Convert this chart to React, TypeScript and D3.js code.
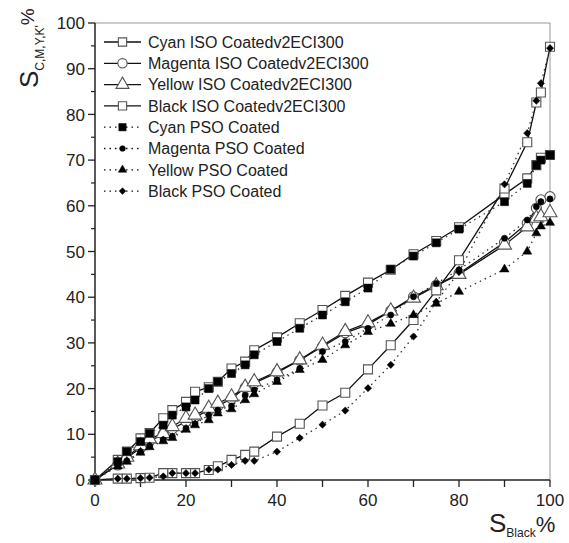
import React from "react";
import * as d3 from "d3";

const xs = [0, 5, 7, 10, 12, 15, 17, 20, 22, 25, 27, 30, 33, 35, 40, 45, 50, 55, 60, 65, 70, 75, 80, 90, 95, 97, 98, 100];

const cyanISO = [0, 4.4, 6.2, 9.1, 10.3, 13.5, 15.3, 17.1, 19.3, 20.3, 21.5, 24.4, 25.9, 28.4, 31.2, 34.3, 37.2, 40.3, 43.2, 46, 49.4, 52.3, 55.3, 62.5, 66, 68.9, 70.5, 71.1];
const magentaISO = [0, 3.3, 4.8, 7, 8.5, 10, 11.2, 12.8, 13.8, 15.2, 16.2, 17.8, 20.2, 21.2, 23.5, 26.2, 29.2, 32.2, 34, 37, 40.1, 42.6, 45.2, 52, 56.2, 59.5, 61.3, 62];
const yellowISO = [0, 3.5, 5, 7.5, 9, 10.2, 11.7, 13.5, 14.2, 15.7, 16.8, 18.2, 20.3, 21.5, 23.7, 26.3, 29.5, 32.5, 34.4, 37, 39.8, 42.5, 45, 51.4, 55.4, 57.3, 57.6, 58.5];
const blackISO = [0, 0.3, 0.3, 0.4, 0.5, 1.5, 1.5, 1.5, 1.5, 2.2, 3, 4.4, 5.5, 6.2, 9.5, 12.3, 16.3, 19.1, 24.2, 29.5, 35, 41.5, 48.1, 63.8, 73.9, 82.6, 84.8, 94.8];
const cyanPSO = [0, 4, 6.2, 8.4, 10.2, 12, 14.2, 16, 17.5, 20, 21.5, 23.3, 25.2, 27.4, 30.3, 33.2, 36.1, 39, 42, 46.1, 49, 51.9, 54.9, 60.9, 64.9, 68.9, 70, 71.1];
const magentaPSO = [0, 3.6, 4.2, 6.2, 7.5, 8.8, 9.5, 11.3, 12.3, 14.2, 15.3, 16.2, 18.5, 19.7, 21.9, 24.4, 28.1, 30.3, 33.2, 36.1, 40.1, 43, 46, 52.9, 56.9, 59.8, 60.9, 61.5];
const yellowPSO = [0, 3, 4, 6, 7.2, 8.5, 9.2, 11, 12, 13.1, 14.6, 15.5, 17.5, 18.8, 21.5, 24.1, 26.3, 29.5, 32.4, 34.2, 36.1, 38.6, 41.2, 46.1, 50, 54, 55.5, 56.3];
const blackPSO = [0, 0.3, 0.3, 0.4, 0.5, 0.8, 1.5, 1.5, 1.5, 2.3, 2.3, 3.3, 4.2, 4.2, 6.2, 9.2, 12.1, 15.2, 20.1, 25.2, 31.4, 39, 45.5, 64.7, 75.9, 83, 86.8, 94.5];

const seriesNames = [
  "Cyan ISO Coatedv2ECI300",
  "Magenta ISO Coatedv2ECI300",
  "Yellow ISO Coatedv2ECI300",
  "Black ISO Coatedv2ECI300",
  "Cyan PSO Coated",
  "Magenta PSO Coated",
  "Yellow PSO Coated",
  "Black PSO Coated",
];
const seriesValues = [cyanISO, magentaISO, yellowISO, blackISO, cyanPSO, magentaPSO, yellowPSO, blackPSO];

const xTicks = [0, 20, 40, 60, 80, 100];
const yTicks = [0, 10, 20, 30, 40, 50, 60, 70, 80, 90, 100];

type Style = { symbol: d3.SymbolType; size: number; filled: boolean; dashed: boolean; rot: number };
const styles: Style[] = [
  { symbol: d3.symbolSquare, size: 81, filled: false, dashed: false, rot: 0 },
  { symbol: d3.symbolCircle, size: 80, filled: false, dashed: false, rot: 0 },
  { symbol: d3.symbolTriangle, size: 85, filled: false, dashed: false, rot: 0 },
  { symbol: d3.symbolSquare, size: 81, filled: false, dashed: false, rot: 0 },
  { symbol: d3.symbolSquare, size: 64, filled: true, dashed: true, rot: 0 },
  { symbol: d3.symbolCircle, size: 30, filled: true, dashed: true, rot: 0 },
  { symbol: d3.symbolTriangle, size: 36, filled: true, dashed: true, rot: 0 },
  { symbol: d3.symbolSquare, size: 26, filled: true, dashed: true, rot: 45 },
];

const W = 569;
const H = 543;
const FONT = "'Liberation Sans', Arial, sans-serif";

export default function App() {
  const x = d3.scaleLinear().domain([0, 100]).range([95, 550]);
  const y = d3.scaleLinear().domain([0, 100]).range([480, 23]);
  const line = d3
    .line<[number, number]>()
    .x((d) => x(d[0]))
    .y((d) => y(d[1]));

  const lines = seriesValues.map((vals, i) => {
    const pts = vals.map((v, j) => [xs[j], v] as [number, number]);
    const st = styles[i];
    return (
      <path
        key={"l" + i}
        d={line(pts) || ""}
        fill="none"
        stroke={st.dashed ? "#333" : "#111"}
        strokeWidth={1.3}
        strokeDasharray={st.dashed ? "1.5,4" : undefined}
      />
    );
  });

  const markers = seriesValues.map((vals, i) => {
    const st = styles[i];
    const p = d3.symbol().type(st.symbol).size(st.size)() || "";
    return (
      <g key={"m" + i}>
        {vals.map((v, j) => (
          <path
            key={j}
            d={p}
            transform={`translate(${x(xs[j])},${y(v)}) rotate(${st.rot})`}
            fill={st.filled ? "#000" : "#fff"}
            stroke={st.filled ? "#000" : "#555"}
            strokeWidth={st.filled ? 0.5 : 1.1}
          />
        ))}
      </g>
    );
  });

  const xMajor = d3.range(0, 101, 10);
  const yMinor = d3.range(5, 100, 10);

  const legendY0 = 42;
  const legendDy = 21.3;

  return (
    <svg width={W} height={H} style={{ position: "absolute", left: 0, top: 0, background: "#fff" }}>
      <rect x={0} y={0} width={W} height={H} fill="#fff" />
      <line x1={x(0)} x2={x(100)} y1={y(100)} y2={y(100)} stroke="#999" strokeWidth={1} />
      <line x1={x(100)} x2={x(100)} y1={y(100)} y2={y(0)} stroke="#999" strokeWidth={1} />
      <line x1={x(0)} x2={x(0)} y1={y(100)} y2={y(0)} stroke="#222" strokeWidth={1.5} />
      <line x1={x(0)} x2={x(100)} y1={y(0)} y2={y(0)} stroke="#222" strokeWidth={1.5} />
      {yTicks.map((t) => (
        <g key={"yt" + t}>
          <line x1={x(0) - 7} x2={x(0)} y1={y(t)} y2={y(t)} stroke="#222" strokeWidth={1.3} />
          <text x={x(0) - 10} y={y(t)} dy="0.36em" textAnchor="end" fontSize={17} fontFamily={FONT} fill="#222">
            {t}
          </text>
        </g>
      ))}
      {yMinor.map((t) => (
        <line key={"ym" + t} x1={x(0) - 4} x2={x(0)} y1={y(t)} y2={y(t)} stroke="#222" strokeWidth={1.2} />
      ))}
      {xMajor.map((t) => (
        <line key={"xt" + t} x1={x(t)} x2={x(t)} y1={y(0)} y2={y(0) + 7} stroke="#222" strokeWidth={1.3} />
      ))}
      {xTicks.map((t) => (
        <text key={"xl" + t} x={x(t)} y={y(0) + 26} textAnchor="middle" fontSize={17} fontFamily={FONT} fill="#222">
          {t}
        </text>
      ))}
      {lines}
      {markers}
      {seriesNames.map((name, i) => {
        const st = styles[i];
        const ly = legendY0 + i * legendDy;
        const p = d3.symbol().type(st.symbol).size(st.size * 0.85)() || "";
        return (
          <g key={"lg" + i}>
            <line
              x1={104}
              x2={141}
              y1={ly}
              y2={ly}
              stroke="#111"
              strokeWidth={1.3}
              strokeDasharray={st.dashed ? "1.5,4" : undefined}
            />
            <path
              d={p}
              transform={`translate(122.5,${ly}) rotate(${st.rot})`}
              fill={st.filled ? "#000" : "#fff"}
              stroke={st.filled ? "#000" : "#555"}
              strokeWidth={st.filled ? 0.5 : 1.1}
            />
            <text x={148} y={ly} dy="0.36em" fontSize={16} fontFamily={FONT} fill="#222">
              {name}
            </text>
          </g>
        );
      })}
      <g transform="translate(38,88) rotate(-90)">
        <text fontFamily={FONT} fill="#222">
          <tspan fontSize={26}>S</tspan>
          <tspan fontSize={12} dy={6}>C,M,Y,K'</tspan>
          <tspan fontSize={19} dy={-10}>%</tspan>
        </text>
      </g>
      <text x={489} y={532} fontFamily={FONT} fill="#222">
        <tspan fontSize={26}>S</tspan>
        <tspan fontSize={12} dy={5}>Black</tspan>
        <tspan fontSize={22} dy={-5}>%</tspan>
      </text>
    </svg>
  );
}
